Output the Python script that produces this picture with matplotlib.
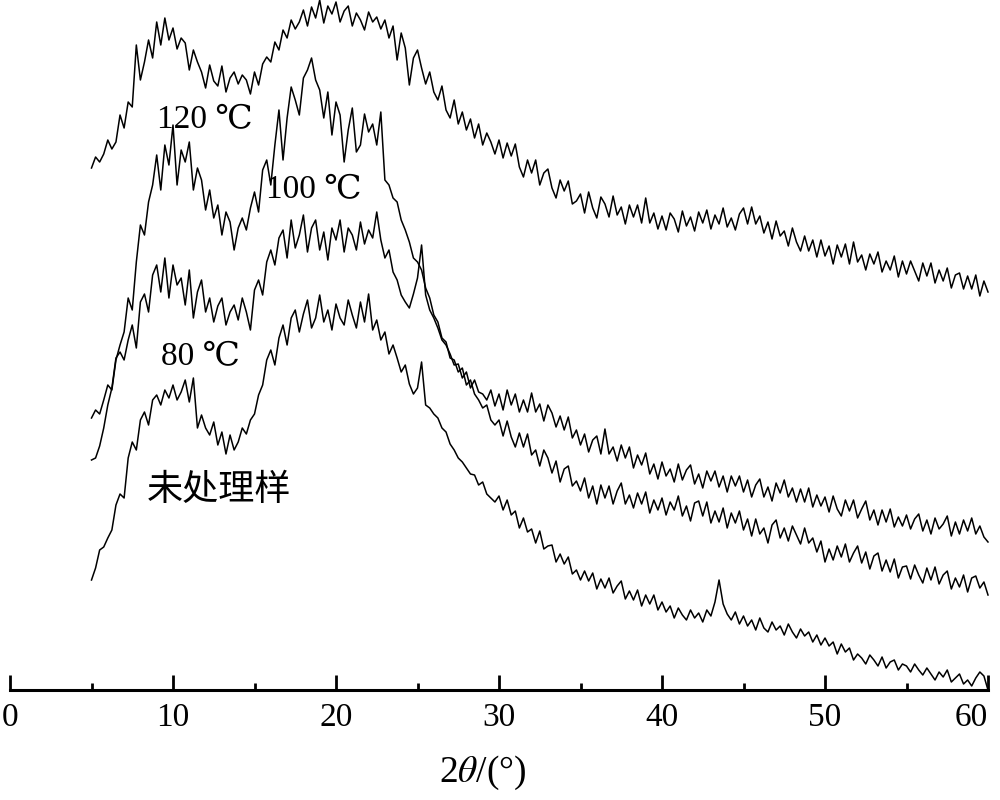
import numpy as np
import matplotlib
matplotlib.use('Agg')
import matplotlib.pyplot as plt

plt.rcParams['font.family'] = ['Liberation Serif', 'DejaVu Serif']
plt.rcParams['mathtext.fontset'] = 'stix'

# 2theta scan, 0.25 deg step
two_theta = np.arange(5.0, 60.001, 0.25)

# intensities (a.u., stacked)
i_120 = [
    522, 533, 528, 536, 550, 541, 548, 575, 562, 588, 583, 645, 610, 628, 650, 632, 668, 645, 672, 650,
    662, 641, 652, 647, 620, 640, 628, 618, 602, 625, 609, 604, 624, 598, 612, 618, 606, 615, 610, 596,
    618, 605, 626, 633, 628, 648, 640, 660, 652, 670, 661, 668, 680, 664, 683, 672, 690, 667, 684, 676,
    688, 668, 679, 684, 664, 677, 670, 660, 678, 668, 673, 661, 670, 652, 664, 630, 657, 642, 605, 632,
    640, 622, 606, 618, 598, 590, 604, 580, 572, 590, 566, 578, 560, 571, 552, 566, 545, 557, 548, 536,
    550, 532, 547, 534, 546, 523, 513, 530, 517, 530, 505, 517, 521, 502, 492, 510, 499, 509, 486, 489,
    496, 477, 498, 482, 472, 493, 486, 473, 494, 475, 483, 466, 485, 473, 485, 467, 492, 467, 477, 461,
    474, 460, 477, 471, 458, 479, 464, 473, 459, 478, 467, 480, 461, 475, 466, 482, 463, 472, 460, 476,
    482, 466, 483, 466, 474, 457, 468, 451, 469, 454, 459, 444, 462, 448, 439, 454, 439, 450, 433, 450,
    434, 444, 426, 445, 433, 446, 426, 448, 428, 435, 420, 436, 426, 438, 418, 429, 420, 434, 413, 429,
    416, 429, 419, 409, 427, 414, 427, 407, 420, 409, 422, 402, 415, 417, 401, 414, 401, 415, 394, 409,
    398,
]
i_100 = [
    272, 280, 276, 290, 305, 300, 330, 345, 358, 392, 380, 428, 465, 455, 488, 505, 535, 500, 545, 525,
    565, 505, 540, 528, 548, 500, 522, 510, 480, 500, 472, 485, 455, 478, 468, 440, 462, 472, 460, 482,
    498, 478, 520, 530, 505, 545, 580, 530, 572, 603, 590, 575, 612, 620, 632, 610, 600, 572, 598, 555,
    588, 575, 528, 560, 582, 538, 545, 576, 558, 566, 545, 578, 510, 505, 492, 488, 470, 460, 448, 432,
    428, 420, 402, 392, 375, 368, 352, 348, 332, 330, 318, 322, 305, 310, 296, 290, 282, 285, 270, 265,
    270, 254, 269, 253, 243, 257, 243, 256, 235, 240, 224, 240, 232, 217, 229, 208, 221, 224, 204, 209,
    199, 212, 192, 204, 186, 205, 192, 204, 186, 199, 207, 186, 195, 182, 197, 186, 198, 177, 190, 180,
    192, 175, 188, 180, 194, 174, 184, 169, 187, 189, 174, 188, 167, 179, 168, 182, 162, 177, 167, 179,
    160, 171, 154, 171, 156, 162, 147, 165, 170, 152, 162, 149, 164, 155, 146, 162, 147, 152, 138, 149,
    128, 141, 130, 144, 133, 146, 128, 137, 144, 127, 138, 121, 134, 137, 119, 130, 118, 131, 112, 123,
    124, 111, 125, 115, 107, 122, 110, 123, 106, 115, 119, 101, 112, 103, 115, 98, 112, 114, 102, 108,
    95,
]
i_80 = [
    230, 232, 244, 262, 285, 302, 332, 338, 330, 350, 365, 342, 388, 396, 378, 415, 425, 398, 432, 392,
    425, 405, 412, 385, 420, 372, 398, 410, 378, 392, 368, 384, 392, 365, 378, 385, 370, 392, 378, 360,
    400, 410, 395, 428, 440, 425, 452, 460, 432, 470, 442, 455, 475, 438, 462, 470, 440, 458, 430, 462,
    450, 470, 438, 462, 455, 440, 468, 446, 460, 452, 478, 450, 432, 440, 418, 410, 395, 388, 382, 396,
    412, 445, 395, 380, 372, 362, 350, 345, 336, 325, 326, 312, 318, 302, 310, 298, 296, 290, 300, 284,
    296, 280, 300, 285, 296, 278, 290, 278, 297, 278, 286, 269, 285, 277, 263, 274, 260, 273, 252, 260,
    245, 256, 238, 250, 254, 236, 261, 236, 243, 229, 245, 232, 243, 222, 235, 225, 237, 216, 226, 211,
    228, 214, 221, 208, 226, 210, 220, 225, 206, 216, 202, 219, 209, 219, 203, 214, 198, 214, 204, 214,
    198, 210, 193, 205, 211, 193, 203, 189, 207, 197, 210, 193, 202, 188, 201, 188, 202, 183, 195, 184,
    193, 178, 194, 181, 174, 190, 179, 190, 172, 181, 189, 170, 180, 165, 180, 168, 181, 163, 173, 164,
    175, 161, 171, 176, 159, 170, 156, 172, 161, 166, 174, 154, 168, 156, 170, 159, 172, 156, 164, 153,
    148,
]
i_raw = [
    110, 122, 140, 143, 152, 160, 185, 196, 192, 232, 248, 240, 270, 278, 265, 290, 295, 285, 300, 292,
    305, 290, 298, 310, 288, 312, 262, 275, 262, 255, 268, 245, 258, 236, 255, 240, 248, 262, 256, 270,
    276, 295, 305, 330, 340, 325, 352, 365, 345, 372, 380, 358, 376, 390, 362, 372, 395, 368, 380, 360,
    386, 372, 365, 390, 375, 362, 388, 368, 396, 360, 370, 350, 358, 336, 345, 332, 318, 325, 306, 296,
    302, 328, 285, 282, 276, 272, 262, 258, 246, 240, 232, 228, 222, 216, 215, 205, 208, 196, 192, 188,
    194, 180, 190, 175, 179, 162, 172, 158, 161, 147, 159, 141, 144, 145, 128, 136, 126, 133, 116, 120,
    110, 119, 109, 117, 101, 111, 102, 112, 97, 104, 109, 91, 99, 90, 100, 84, 95, 86, 95, 80,
    88, 78, 84, 72, 82, 75, 70, 80, 72, 77, 68, 80, 74, 88, 110, 86, 76, 70, 78, 66,
    74, 64, 70, 60, 72, 62, 58, 68, 60, 64, 55, 66, 58, 52, 61, 54, 58, 48, 55, 45,
    52, 44, 48, 36, 46, 38, 42, 30, 36, 32, 26, 35, 30, 24, 33, 22, 28, 30, 20, 26,
    24, 18, 26, 20, 15, 22, 16, 10, 18, 13, 20, 8, 12, 16, 6, 10, 4, 12, 18, 14,
    0,
]

labels = ['120 ℃', '100 ℃', '80 ℃', '未处理样']
label_x = [11.96, 18.65, 11.66, 12.8]
label_y = [570, 500, 333, 200]

fig = plt.figure(figsize=(10, 8), dpi=100)
ax = fig.add_axes([0.01, 0.1375, 0.978, 0.8625])

for y in (i_120, i_100, i_80, i_raw):
    ax.plot(two_theta, y, color='black', lw=1.1, clip_on=False)

for txt, tx, ty in zip(labels, label_x, label_y):
    if txt == '未处理样':
        ax.text(tx, ty, txt, ha='center', va='center', fontsize=26, family=['Noto Sans CJK SC'])
    else:
        ax.text(tx, ty, txt, ha='center', va='center', fontsize=24,
                family=['Liberation Serif', 'DejaVu Serif'])

ax.set_xlim(0, 60)
ax.set_ylim(0, 690)
ax.set_xticks(np.arange(0, 61, 10))
ax.set_xticks(np.arange(5, 60, 10), minor=True)
ax.tick_params(axis='x', which='major', direction='in', length=11, width=2, labelsize=24, pad=9)
ax.tick_params(axis='x', which='minor', direction='in', length=5, width=2)
ax.get_xticklabels()[-1].set_horizontalalignment('right')
ax.set_yticks([])
for s in ('left', 'right', 'top'):
    ax.spines[s].set_visible(False)
ax.spines['bottom'].set_linewidth(2.2)

fig.text(0.483, 1 - 773 / 800, r'2$\theta$/(°)', ha='center', va='center', fontsize=27)

plt.savefig('out.png', dpi=100)
